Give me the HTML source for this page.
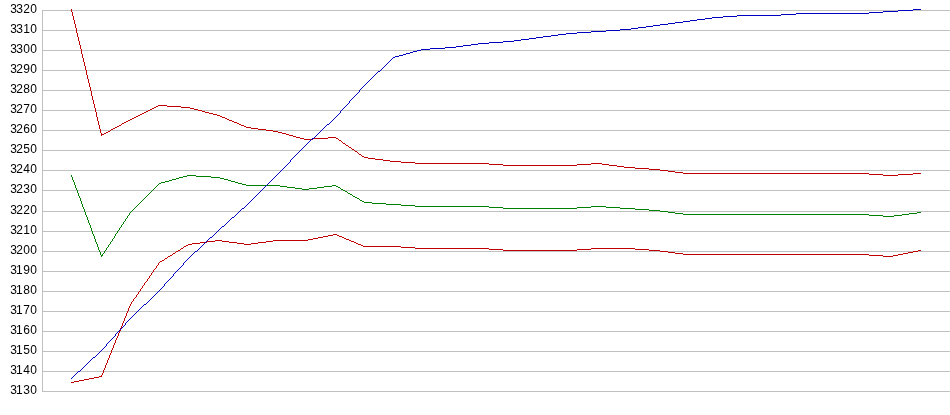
<!DOCTYPE html><html><head><meta charset="utf-8"><title>chart</title><style>html,body{margin:0;padding:0;background:#fff}svg{display:block}text{font-family:"Liberation Sans",Arial,sans-serif;font-size:12px;fill:#000}</style></head><body>
<svg width="950" height="415" viewBox="0 0 950 415">
<rect width="950" height="415" fill="#fff"/>
<g shape-rendering="crispEdges" stroke="#c0c0c0" stroke-width="1" fill="none">
<line x1="42" x2="950" y1="10.5" y2="10.5"/>
<line x1="42" x2="950" y1="30.5" y2="30.5"/>
<line x1="42" x2="950" y1="50.5" y2="50.5"/>
<line x1="42" x2="950" y1="70.5" y2="70.5"/>
<line x1="42" x2="950" y1="90.5" y2="90.5"/>
<line x1="42" x2="950" y1="110.5" y2="110.5"/>
<line x1="42" x2="950" y1="130.5" y2="130.5"/>
<line x1="42" x2="950" y1="150.5" y2="150.5"/>
<line x1="42" x2="950" y1="170.5" y2="170.5"/>
<line x1="42" x2="950" y1="190.5" y2="190.5"/>
<line x1="42" x2="950" y1="211.5" y2="211.5"/>
<line x1="42" x2="950" y1="231.5" y2="231.5"/>
<line x1="42" x2="950" y1="251.5" y2="251.5"/>
<line x1="42" x2="950" y1="271.5" y2="271.5"/>
<line x1="42" x2="950" y1="291.5" y2="291.5"/>
<line x1="42" x2="950" y1="311.5" y2="311.5"/>
<line x1="42" x2="950" y1="331.5" y2="331.5"/>
<line x1="42" x2="950" y1="351.5" y2="351.5"/>
<line x1="42" x2="950" y1="371.5" y2="371.5"/>
<line x1="42" x2="950" y1="391.5" y2="391.5"/>
<line x1="42.5" x2="42.5" y1="10" y2="392"/>
</g>
<g>
<text x="10.20 16.30 23.15 30.33" y="13">3320</text>
<text x="10.20 16.30 23.15 30.33" y="33">3310</text>
<text x="10.20 16.30 23.15 30.33" y="53">3300</text>
<text x="10.20 16.30 23.15 30.33" y="73">3290</text>
<text x="10.20 16.30 23.15 30.33" y="93">3280</text>
<text x="10.20 16.30 23.15 30.33" y="113">3270</text>
<text x="10.20 16.30 23.15 30.33" y="133">3260</text>
<text x="10.20 16.30 23.15 30.33" y="153">3250</text>
<text x="10.20 16.30 23.15 30.33" y="173">3240</text>
<text x="10.20 16.30 23.15 30.33" y="193">3230</text>
<text x="10.20 16.30 23.15 30.33" y="214">3220</text>
<text x="10.20 16.30 23.15 30.33" y="234">3210</text>
<text x="10.20 16.30 23.15 30.33" y="254">3200</text>
<text x="10.20 16.08 23.15 30.33" y="274">3190</text>
<text x="10.20 16.08 23.15 30.33" y="294">3180</text>
<text x="10.20 16.08 23.15 30.33" y="314">3170</text>
<text x="10.20 16.08 23.15 30.33" y="334">3160</text>
<text x="10.20 16.08 23.15 30.33" y="354">3150</text>
<text x="10.20 16.08 23.15 30.33" y="374">3140</text>
<text x="10.20 16.08 23.15 30.33" y="394">3130</text>
</g>
<g shape-rendering="crispEdges" stroke-width="1" fill="none">
<path stroke="#008000" d="M71 175.5h1M187 175.5h9M71 176.5h1M183 176.5h4M196 176.5h15M72 177.5h1M179 177.5h4M211 177.5h9M72 178.5h1M176 178.5h3M220 178.5h4M72 179.5h1M172 179.5h4M224 179.5h4M73 180.5h1M169 180.5h3M228 180.5h3M73 181.5h1M165 181.5h4M231 181.5h4M74 182.5h1M161 182.5h4M235 182.5h3M74 183.5h1M159 183.5h2M238 183.5h4M74 184.5h1M158 184.5h1M242 184.5h4M75 185.5h1M157 185.5h1M246 185.5h34M332 185.5h4M75 186.5h1M156 186.5h1M280 186.5h7M324 186.5h8M336 186.5h2M75 187.5h1M155 187.5h1M287 187.5h8M317 187.5h7M338 187.5h2M76 188.5h1M154 188.5h1M295 188.5h7M309 188.5h8M340 188.5h1M76 189.5h1M153 189.5h1M302 189.5h7M341 189.5h2M77 190.5h1M152 190.5h1M343 190.5h2M77 191.5h1M151 191.5h1M345 191.5h2M77 192.5h1M150 192.5h1M347 192.5h1M78 193.5h1M149 193.5h1M348 193.5h2M78 194.5h1M148 194.5h1M350 194.5h2M78 195.5h1M147 195.5h1M352 195.5h1M79 196.5h1M146 196.5h1M353 196.5h2M79 197.5h1M145 197.5h1M355 197.5h2M80 198.5h1M144 198.5h1M357 198.5h2M80 199.5h1M143 199.5h1M359 199.5h1M80 200.5h1M142 200.5h1M360 200.5h2M81 201.5h1M141 201.5h1M362 201.5h2M81 202.5h1M140 202.5h1M364 202.5h8M81 203.5h1M139 203.5h1M372 203.5h14M82 204.5h1M138 204.5h1M386 204.5h15M82 205.5h1M137 205.5h1M401 205.5h14M82 206.5h1M136 206.5h1M415 206.5h74M591 206.5h15M83 207.5h1M135 207.5h1M489 207.5h14M577 207.5h14M606 207.5h14M83 208.5h1M134 208.5h1M503 208.5h74M620 208.5h15M84 209.5h1M133 209.5h1M635 209.5h14M84 210.5h1M132 210.5h1M649 210.5h11M84 211.5h1M131 211.5h1M660 211.5h8M85 212.5h1M130 212.5h1M668 212.5h7M917 212.5h4M85 213.5h1M129 213.5h1M675 213.5h8M909 213.5h8M85 214.5h1M129 214.5h1M683 214.5h186M902 214.5h7M86 215.5h1M128 215.5h1M869 215.5h14M894 215.5h8M86 216.5h1M127 216.5h1M883 216.5h11M87 217.5h1M127 217.5h1M87 218.5h1M126 218.5h1M87 219.5h1M125 219.5h1M88 220.5h1M125 220.5h1M88 221.5h1M124 221.5h1M88 222.5h1M123 222.5h1M89 223.5h1M123 223.5h1M89 224.5h1M122 224.5h1M90 225.5h1M121 225.5h1M90 226.5h1M121 226.5h1M90 227.5h1M120 227.5h1M91 228.5h1M119 228.5h1M91 229.5h1M119 229.5h1M91 230.5h1M118 230.5h1M92 231.5h1M117 231.5h1M92 232.5h1M117 232.5h1M92 233.5h1M116 233.5h1M93 234.5h1M115 234.5h1M93 235.5h1M115 235.5h1M94 236.5h1M114 236.5h1M94 237.5h1M114 237.5h1M94 238.5h1M113 238.5h1M95 239.5h1M112 239.5h1M95 240.5h1M112 240.5h1M95 241.5h1M111 241.5h1M96 242.5h1M110 242.5h1M96 243.5h1M110 243.5h1M97 244.5h1M109 244.5h1M97 245.5h1M108 245.5h1M97 246.5h1M108 246.5h1M98 247.5h1M107 247.5h1M98 248.5h1M106 248.5h1M98 249.5h1M106 249.5h1M99 250.5h1M105 250.5h1M99 251.5h1M104 251.5h1M100 252.5h1M104 252.5h1M100 253.5h1M103 253.5h1M100 254.5h1M102 254.5h1M101 255.5h2M101 256.5h1"/>
<path stroke="#c00000" d="M71 9.5h1M71 10.5h1M71 11.5h1M72 12.5h1M72 13.5h1M72 14.5h1M72 15.5h1M73 16.5h1M73 17.5h1M73 18.5h1M73 19.5h1M74 20.5h1M74 21.5h1M74 22.5h1M74 23.5h1M75 24.5h1M75 25.5h1M75 26.5h1M75 27.5h1M76 28.5h1M76 29.5h1M76 30.5h1M76 31.5h1M76 32.5h1M77 33.5h1M77 34.5h1M77 35.5h1M77 36.5h1M78 37.5h1M78 38.5h1M78 39.5h1M78 40.5h1M79 41.5h1M79 42.5h1M79 43.5h1M79 44.5h1M80 45.5h1M80 46.5h1M80 47.5h1M80 48.5h1M81 49.5h1M81 50.5h1M81 51.5h1M81 52.5h1M81 53.5h1M82 54.5h1M82 55.5h1M82 56.5h1M82 57.5h1M83 58.5h1M83 59.5h1M83 60.5h1M83 61.5h1M84 62.5h1M84 63.5h1M84 64.5h1M84 65.5h1M85 66.5h1M85 67.5h1M85 68.5h1M85 69.5h1M86 70.5h1M86 71.5h1M86 72.5h1M86 73.5h1M86 74.5h1M87 75.5h1M87 76.5h1M87 77.5h1M87 78.5h1M88 79.5h1M88 80.5h1M88 81.5h1M88 82.5h1M89 83.5h1M89 84.5h1M89 85.5h1M89 86.5h1M90 87.5h1M90 88.5h1M90 89.5h1M90 90.5h1M91 91.5h1M91 92.5h1M91 93.5h1M91 94.5h1M91 95.5h1M92 96.5h1M92 97.5h1M92 98.5h1M92 99.5h1M93 100.5h1M93 101.5h1M93 102.5h1M93 103.5h1M94 104.5h1M94 105.5h1M158 105.5h9M94 106.5h1M156 106.5h2M167 106.5h14M94 107.5h1M154 107.5h2M181 107.5h9M95 108.5h1M152 108.5h2M190 108.5h4M95 109.5h1M150 109.5h2M194 109.5h4M95 110.5h1M148 110.5h2M198 110.5h4M95 111.5h1M146 111.5h2M202 111.5h3M96 112.5h1M144 112.5h2M205 112.5h4M96 113.5h1M142 113.5h2M209 113.5h4M96 114.5h1M140 114.5h2M213 114.5h4M96 115.5h1M138 115.5h2M217 115.5h3M96 116.5h1M136 116.5h2M220 116.5h2M97 117.5h1M134 117.5h2M222 117.5h3M97 118.5h1M132 118.5h2M225 118.5h2M97 119.5h1M130 119.5h2M227 119.5h2M97 120.5h1M128 120.5h2M229 120.5h3M98 121.5h1M126 121.5h2M232 121.5h2M98 122.5h1M124 122.5h2M234 122.5h3M98 123.5h1M122 123.5h2M237 123.5h2M98 124.5h1M121 124.5h1M239 124.5h2M99 125.5h1M119 125.5h2M241 125.5h3M99 126.5h1M117 126.5h2M244 126.5h2M99 127.5h1M115 127.5h2M246 127.5h5M99 128.5h1M113 128.5h2M251 128.5h7M100 129.5h1M111 129.5h2M258 129.5h8M100 130.5h1M110 130.5h1M266 130.5h7M100 131.5h1M108 131.5h2M273 131.5h5M100 132.5h1M106 132.5h2M278 132.5h4M101 133.5h1M104 133.5h2M282 133.5h4M101 134.5h3M286 134.5h3M101 135.5h1M289 135.5h4M293 136.5h3M296 137.5h4M328 137.5h8M300 138.5h4M313 138.5h15M336 138.5h2M304 139.5h9M338 139.5h1M339 140.5h2M341 141.5h1M342 142.5h1M343 143.5h2M345 144.5h1M346 145.5h2M348 146.5h1M349 147.5h2M351 148.5h1M352 149.5h2M354 150.5h1M355 151.5h2M357 152.5h1M358 153.5h1M359 154.5h2M361 155.5h1M362 156.5h2M364 157.5h4M368 158.5h7M375 159.5h8M383 160.5h7M390 161.5h11M401 162.5h14M415 163.5h74M591 163.5h11M489 164.5h14M577 164.5h14M602 164.5h7M503 165.5h74M609 165.5h8M617 166.5h7M624 167.5h11M635 168.5h14M649 169.5h11M660 170.5h8M668 171.5h7M675 172.5h8M683 173.5h186M913 173.5h8M869 174.5h14M898 174.5h15M883 175.5h15"/>
<path stroke="#c00000" d="M333 234.5h4M328 235.5h5M337 235.5h2M323 236.5h5M339 236.5h3M318 237.5h5M342 237.5h2M313 238.5h5M344 238.5h2M308 239.5h5M346 239.5h3M215 240.5h7M273 240.5h35M349 240.5h2M207 241.5h8M222 241.5h7M266 241.5h7M351 241.5h3M200 242.5h7M229 242.5h8M258 242.5h8M354 242.5h2M192 243.5h8M237 243.5h7M251 243.5h7M356 243.5h2M188 244.5h4M244 244.5h7M358 244.5h3M186 245.5h2M361 245.5h2M184 246.5h2M363 246.5h38M183 247.5h1M401 247.5h14M181 248.5h2M415 248.5h74M591 248.5h44M180 249.5h1M489 249.5h14M577 249.5h14M635 249.5h14M178 250.5h2M503 250.5h74M649 250.5h11M918 250.5h3M176 251.5h2M660 251.5h8M913 251.5h5M175 252.5h1M668 252.5h7M908 252.5h5M173 253.5h2M675 253.5h8M903 253.5h5M172 254.5h1M683 254.5h186M898 254.5h5M170 255.5h2M869 255.5h14M893 255.5h5M168 256.5h2M883 256.5h10M167 257.5h1M165 258.5h2M164 259.5h1M162 260.5h2M160 261.5h2M159 262.5h1M158 263.5h1M158 264.5h1M157 265.5h1M156 266.5h1M156 267.5h1M155 268.5h1M154 269.5h1M153 270.5h1M153 271.5h1M152 272.5h1M151 273.5h1M151 274.5h1M150 275.5h1M149 276.5h1M149 277.5h1M148 278.5h1M147 279.5h1M147 280.5h1M146 281.5h1M145 282.5h1M144 283.5h1M144 284.5h1M143 285.5h1M142 286.5h1M142 287.5h1M141 288.5h1M140 289.5h1M140 290.5h1M139 291.5h1M138 292.5h1M138 293.5h1M137 294.5h1M136 295.5h1M136 296.5h1M135 297.5h1M134 298.5h1M133 299.5h1M133 300.5h1M132 301.5h1M131 302.5h1M131 303.5h1M130 304.5h1M130 305.5h1M129 306.5h1M129 307.5h1M128 308.5h1M128 309.5h1M128 310.5h1M127 311.5h1M127 312.5h1M126 313.5h1M126 314.5h1M126 315.5h1M125 316.5h1M125 317.5h1M124 318.5h1M124 319.5h1M124 320.5h1M123 321.5h1M123 322.5h1M122 323.5h1M122 324.5h1M122 325.5h1M121 326.5h1M121 327.5h1M120 328.5h1M120 329.5h1M120 330.5h1M119 331.5h1M119 332.5h1M118 333.5h1M118 334.5h1M118 335.5h1M117 336.5h1M117 337.5h1M116 338.5h1M116 339.5h1M115 340.5h1M115 341.5h1M115 342.5h1M114 343.5h1M114 344.5h1M113 345.5h1M113 346.5h1M113 347.5h1M112 348.5h1M112 349.5h1M111 350.5h1M111 351.5h1M111 352.5h1M110 353.5h1M110 354.5h1M109 355.5h1M109 356.5h1M109 357.5h1M108 358.5h1M108 359.5h1M107 360.5h1M107 361.5h1M107 362.5h1M106 363.5h1M106 364.5h1M105 365.5h1M105 366.5h1M105 367.5h1M104 368.5h1M104 369.5h1M103 370.5h1M103 371.5h1M103 372.5h1M102 373.5h1M102 374.5h1M101 375.5h1M99 376.5h3M94 377.5h5M89 378.5h5M84 379.5h5M79 380.5h5M74 381.5h5M71 382.5h3"/>
<path stroke="#0000c0" d="M913 9.5h8M898 10.5h15M883 11.5h15M869 12.5h14M796 13.5h73M781 14.5h15M737 15.5h44M723 16.5h14M712 17.5h11M705 18.5h7M697 19.5h8M690 20.5h7M683 21.5h7M675 22.5h8M668 23.5h7M660 24.5h8M653 25.5h7M646 26.5h7M638 27.5h8M631 28.5h7M620 29.5h11M606 30.5h14M591 31.5h15M577 32.5h14M566 33.5h11M558 34.5h8M551 35.5h7M543 36.5h8M536 37.5h7M529 38.5h7M521 39.5h8M514 40.5h7M503 41.5h11M489 42.5h14M478 43.5h11M471 44.5h7M463 45.5h8M456 46.5h7M445 47.5h11M430 48.5h15M421 49.5h9M417 50.5h4M413 51.5h4M410 52.5h3M406 53.5h4M403 54.5h3M399 55.5h4M395 56.5h4M393 57.5h2M392 58.5h1M391 59.5h1M390 60.5h1M389 61.5h1M388 62.5h1M387 63.5h1M386 64.5h1M385 65.5h1M384 66.5h1M383 67.5h1M382 68.5h1M381 69.5h1M380 70.5h1M378 71.5h2M377 72.5h1M376 73.5h1M375 74.5h1M374 75.5h1M373 76.5h1M372 77.5h1M371 78.5h1M370 79.5h1M369 80.5h1M368 81.5h1M367 82.5h1M366 83.5h1M365 84.5h1M364 85.5h1M363 86.5h1M362 87.5h1M361 88.5h1M360 89.5h1M359 90.5h1M359 91.5h1M358 92.5h1M357 93.5h1M356 94.5h1M355 95.5h1M354 96.5h1M353 97.5h1M352 98.5h1M351 99.5h1M350 100.5h1M349 101.5h1M349 102.5h1M348 103.5h1M347 104.5h1M346 105.5h1M345 106.5h1M344 107.5h1M343 108.5h1M342 109.5h1M341 110.5h1M340 111.5h1M340 112.5h1M339 113.5h1M338 114.5h1M337 115.5h1M336 116.5h1M335 117.5h1M334 118.5h1M333 119.5h1M332 120.5h1M331 121.5h1M330 122.5h1M329 123.5h1M327 124.5h2M326 125.5h1M325 126.5h1M324 127.5h1M323 128.5h1M322 129.5h1M321 130.5h1M320 131.5h1M319 132.5h1M318 133.5h1M317 134.5h1M316 135.5h1M315 136.5h1M314 137.5h1M312 138.5h2M311 139.5h1M310 140.5h1M309 141.5h1M308 142.5h1M307 143.5h1M306 144.5h1M305 145.5h1M304 146.5h1M303 147.5h1M302 148.5h1M301 149.5h1M300 150.5h1M299 151.5h1M298 152.5h1M297 153.5h1M296 154.5h1M295 155.5h1M294 156.5h1M293 157.5h1M292 158.5h1M291 159.5h1M290 160.5h1M290 161.5h1M289 162.5h1M288 163.5h1M287 164.5h1M286 165.5h1M285 166.5h1M284 167.5h1M283 168.5h1M282 169.5h1M281 170.5h1M280 171.5h1M279 172.5h1M278 173.5h1M277 174.5h1M276 175.5h1M275 176.5h1M274 177.5h1M273 178.5h1M272 179.5h1M271 180.5h1M270 181.5h1M269 182.5h1M268 183.5h1M267 184.5h1M266 185.5h1M265 186.5h1M264 187.5h1M263 188.5h1M262 189.5h1M261 190.5h1M260 191.5h1M259 192.5h1M258 193.5h1M257 194.5h1M256 195.5h1M255 196.5h1M254 197.5h1M253 198.5h1M252 199.5h1M251 200.5h1M250 201.5h1M249 202.5h1M248 203.5h1M247 204.5h1M246 205.5h1M245 206.5h1M244 207.5h1M242 208.5h2M241 209.5h1M240 210.5h1M239 211.5h1M238 212.5h1M237 213.5h1M236 214.5h1M235 215.5h1M234 216.5h1M232 217.5h2M231 218.5h1M230 219.5h1M229 220.5h1M228 221.5h1M227 222.5h1M226 223.5h1M225 224.5h1M224 225.5h1M222 226.5h2M221 227.5h1M220 228.5h1M219 229.5h1M218 230.5h1M217 231.5h1M216 232.5h1M215 233.5h1M214 234.5h1M213 235.5h1M212 236.5h1M210 237.5h2M209 238.5h1M208 239.5h1M207 240.5h1M206 241.5h1M205 242.5h1M204 243.5h1M203 244.5h1M202 245.5h1M201 246.5h1M200 247.5h1M199 248.5h1M198 249.5h1M197 250.5h1M195 251.5h2M194 252.5h1M193 253.5h1M192 254.5h1M191 255.5h1M190 256.5h1M189 257.5h1M188 258.5h1M187 259.5h1M186 260.5h1M185 261.5h1M184 262.5h1M183 263.5h1M183 264.5h1M182 265.5h1M181 266.5h1M180 267.5h1M179 268.5h1M178 269.5h1M177 270.5h1M176 271.5h1M175 272.5h1M174 273.5h1M173 274.5h1M173 275.5h1M172 276.5h1M171 277.5h1M170 278.5h1M169 279.5h1M168 280.5h1M167 281.5h1M166 282.5h1M165 283.5h1M164 284.5h1M164 285.5h1M163 286.5h1M162 287.5h1M161 288.5h1M160 289.5h1M159 290.5h1M158 291.5h1M157 292.5h1M156 293.5h1M155 294.5h1M154 295.5h1M153 296.5h1M152 297.5h1M151 298.5h1M150 299.5h1M149 300.5h1M148 301.5h1M147 302.5h1M146 303.5h1M144 304.5h2M143 305.5h1M142 306.5h1M141 307.5h1M140 308.5h1M139 309.5h1M138 310.5h1M137 311.5h1M136 312.5h1M135 313.5h1M134 314.5h1M133 315.5h1M132 316.5h1M131 317.5h1M130 318.5h1M129 319.5h1M128 320.5h1M127 321.5h1M126 322.5h1M125 323.5h1M125 324.5h1M124 325.5h1M123 326.5h1M122 327.5h1M121 328.5h1M120 329.5h1M119 330.5h1M118 331.5h1M117 332.5h1M116 333.5h1M115 334.5h1M115 335.5h1M114 336.5h1M113 337.5h1M112 338.5h1M111 339.5h1M110 340.5h1M109 341.5h1M108 342.5h1M107 343.5h1M106 344.5h1M106 345.5h1M105 346.5h1M104 347.5h1M103 348.5h1M102 349.5h1M101 350.5h1M100 351.5h1M99 352.5h1M98 353.5h1M97 354.5h1M96 355.5h1M95 356.5h1M93 357.5h2M92 358.5h1M91 359.5h1M90 360.5h1M89 361.5h1M88 362.5h1M87 363.5h1M86 364.5h1M85 365.5h1M84 366.5h1M83 367.5h1M82 368.5h1M81 369.5h1M80 370.5h1M78 371.5h2M77 372.5h1M76 373.5h1M75 374.5h1M74 375.5h1M73 376.5h1M72 377.5h1M71 378.5h1"/>
</g></svg></body></html>
